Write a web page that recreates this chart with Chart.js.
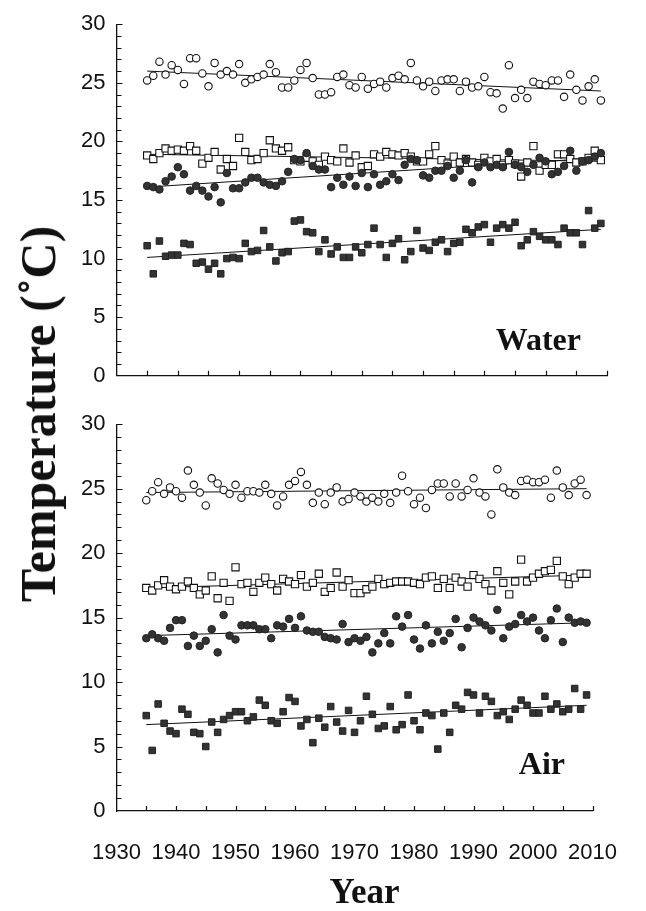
<!DOCTYPE html>
<html>
<head>
<meta charset="utf-8">
<script src="https://cdn.jsdelivr.net/npm/chart.js@4.4.1/dist/chart.umd.min.js"></script>
<style>
  body { margin: 0; background: #fff; }
  #wrap { position: relative; width: 646px; height: 911px; }
  canvas { position: absolute; left: 0; }
  .ytitle {
    position: absolute; left: 38px; top: 414px;
    transform: translate(-50%, -50%) rotate(-90deg);
    font: bold 50px "Liberation Serif", serif; line-height: 1;
    white-space: nowrap; color: #111;
  }
</style>
</head>
<body>
<div id="wrap">
  <canvas id="water" width="646" height="400" style="top:0"></canvas>
  <canvas id="air" width="646" height="511" style="top:400px"></canvas>
  <div class="ytitle">Temperature (˚C)</div>
</div>
<script>
// years of record
const YEARS = [
  1935, 1936, 1937, 1938, 1939, 1940, 1941, 1942, 1943, 1944,
  1945, 1946, 1947, 1948, 1949, 1950, 1951, 1952, 1953, 1954,
  1955, 1956, 1957, 1958, 1959, 1960, 1961, 1962, 1963, 1964,
  1965, 1966, 1967, 1968, 1969, 1970, 1971, 1972, 1973, 1974,
  1975, 1976, 1977, 1978, 1979, 1980, 1981, 1982, 1983, 1984,
  1985, 1986, 1987, 1988, 1989, 1990, 1991, 1992, 1993, 1994,
  1995, 1996, 1997, 1998, 1999, 2000, 2001, 2002, 2003, 2004,
  2005, 2006, 2007, 2008, 2009
];
const X_TICKS = [1930, 1940, 1950, 1960, 1970, 1980, 1990, 2000, 2010];

// water temperature
const waterOpenCircle = [
  25.2, 25.6, 26.8, 25.7, 26.5, 26.1, 24.9, 27.1, 27.1, 25.8,
  24.7, 26.7, 25.7, 26.0, 25.7, 26.6, 25.0, 25.3, 25.5, 25.7,
  26.6, 25.9, 24.6, 24.6, 25.2, 26.1, 26.7, 25.4, 24.0, 24.0,
  24.2, 25.5, 25.7, 24.8, 24.6, 25.5, 24.5, 24.9, 25.1, 24.6,
  25.4, 25.6, 25.3, 26.7, 25.2, 24.7, 25.1, 24.3, 25.2, 25.3,
  25.3, 24.3, 25.1, 24.6, 24.7, 25.5, 24.2, 24.1, 22.8, 26.5,
  23.7, 24.4, 23.7, 25.1, 24.9, 24.8, 25.2, 25.2, 23.8, 25.7,
  24.4, 23.5, 24.7, 25.3, 23.5
];
const waterOpenSquare = [
  18.8, 18.5, 19.0, 19.4, 19.2, 19.3, 19.2, 19.6, 19.2, 18.1,
  18.6, 19.1, 17.6, 18.5, 17.9, 20.3, 19.1, 18.4, 18.5, 19.0,
  20.1, 19.4, 19.2, 19.5, 18.4, 18.3, 18.6, 18.3, 18.0, 18.7,
  18.4, 18.3, 19.4, 18.2, 18.8, 17.8, 17.9, 18.9, 18.7, 19.1,
  18.9, 18.8, 19.0, 18.7, 18.3, 18.3, 18.9, 19.6, 18.4, 18.1,
  18.7, 18.2, 18.5, 18.2, 18.0, 18.6, 18.3, 18.5, 18.0, 18.4,
  18.1, 17.0, 18.2, 19.6, 17.5, 18.0, 18.0, 18.9, 18.9, 18.5,
  18.2, 18.3, 18.6, 19.2, 18.4
];
const waterDot = [
  16.2, 16.1, 15.9, 16.6, 17.0, 17.8, 17.2, 15.8, 16.2, 15.8,
  15.3, 16.1, 14.8, 17.3, 16.0, 16.0, 16.5, 16.9, 16.9, 16.5,
  16.3, 16.2, 16.6, 17.4, 18.5, 18.4, 19.0, 17.9, 17.6, 17.6,
  16.1, 16.9, 16.3, 17.0, 16.2, 17.3, 16.1, 17.2, 16.3, 16.6,
  17.2, 16.7, 18.0, 18.5, 18.4, 17.1, 16.9, 17.5, 17.5, 17.9,
  16.9, 17.5, 18.4, 16.5, 17.8, 18.2, 17.8, 18.0, 17.8, 19.1,
  18.0, 17.8, 17.4, 18.0, 18.6, 18.3, 17.2, 17.4, 17.9, 19.2,
  17.5, 18.3, 18.4, 18.7, 19.0
];
const waterBlock = [
  11.1, 8.7, 11.5, 10.2, 10.3, 10.3, 11.3, 11.2, 9.6, 9.7,
  9.1, 9.6, 8.7, 10.0, 10.1, 10.0, 11.3, 10.6, 10.7, 12.4,
  11.0, 9.8, 10.5, 10.6, 13.2, 13.3, 12.3, 12.2, 10.6, 11.6,
  10.4, 11.0, 10.1, 10.1, 11.0, 10.5, 11.2, 12.6, 11.2, 10.1,
  11.3, 11.7, 9.9, 10.6, 12.4, 10.9, 10.7, 11.4, 11.6, 10.6,
  11.3, 11.4, 12.5, 12.2, 12.7, 12.9, 11.4, 12.6, 12.9, 12.6,
  13.1, 11.1, 11.6, 12.3, 11.9, 11.6, 11.6, 11.2, 12.6, 12.2,
  12.2, 11.2, 14.1, 12.6, 13.0
];
// trend line ends [1935, 2009]
const waterTrend = {
  openCircle: [26.0, 24.3],
  openSquare: [18.9, 18.3],
  dot: [16.1, 18.6],
  block: [10.1, 12.5]
};

// air temperature
const airOpenCircle = [
  24.1, 24.8, 25.5, 24.6, 25.1, 24.8, 24.3, 26.4, 25.3, 24.7,
  23.7, 25.8, 25.4, 24.9, 24.6, 25.3, 24.3, 24.8, 24.8, 24.7,
  25.3, 24.6, 23.7, 24.4, 25.3, 25.6, 26.3, 25.3, 23.9, 24.7,
  23.8, 24.7, 25.1, 24.0, 24.2, 24.7, 24.4, 24.0, 24.3, 24.0,
  24.6, 23.9, 24.7, 26.0, 24.8, 23.8, 24.3, 23.5, 24.9, 25.4,
  25.4, 24.4, 25.4, 24.4, 24.9, 25.8, 24.7, 24.4, 23.0, 26.5,
  25.1, 24.7, 24.5, 25.6, 25.7, 25.5, 25.5, 25.7, 24.3, 26.4,
  25.1, 24.5, 25.4, 25.7, 24.5
];
const airOpenSquare = [
  17.3, 17.1, 17.5, 17.9, 17.4, 17.2, 17.4, 17.8, 17.3, 16.8,
  17.1, 18.2, 16.5, 17.7, 16.3, 18.9, 17.6, 17.7, 17.0, 17.7,
  18.1, 17.6, 17.1, 18.0, 17.8, 17.6, 18.3, 17.4, 17.7, 18.4,
  17.0, 17.3, 18.5, 17.4, 17.9, 16.9, 16.9, 17.2, 17.4, 18.0,
  17.6, 17.7, 17.8, 17.8, 17.8, 17.7, 17.6, 18.1, 18.2, 17.3,
  18.0, 17.3, 18.1, 17.8, 17.4, 18.3, 18.0, 17.6, 17.1, 18.6,
  17.7, 16.8, 17.8, 19.5, 17.8, 18.1, 18.4, 18.6, 18.7, 19.4,
  18.2, 17.6, 18.1, 18.4, 18.4
];
const airDot = [
  13.4, 13.7, 13.4, 13.2, 14.2, 14.8, 14.8, 12.8, 13.6, 12.8,
  13.2, 14.1, 12.3, 15.2, 13.6, 13.3, 14.4, 14.4, 14.4, 14.1,
  14.1, 13.4, 14.4, 14.3, 14.9, 14.2, 15.1, 14.0, 13.9, 13.9,
  13.5, 13.4, 13.3, 14.5, 13.1, 13.4, 13.2, 13.5, 12.3, 13.0,
  13.8, 13.0, 15.1, 14.3, 15.2, 13.3, 12.6, 14.4, 13.0, 13.9,
  13.2, 13.8, 14.9, 12.7, 14.2, 15.0, 14.7, 14.4, 14.0, 15.6,
  13.4, 14.3, 14.5, 15.2, 14.7, 15.0, 14.0, 13.4, 14.8, 15.7,
  13.1, 15.0, 14.6, 14.7, 14.6
];
const airBlock = [
  7.4, 4.7, 8.3, 6.8, 6.2, 6.0, 7.9, 7.5, 6.1, 6.0,
  5.0, 6.9, 6.1, 7.1, 7.4, 7.7, 7.7, 7.0, 7.3, 8.6,
  8.2, 7.0, 6.8, 7.7, 8.8, 8.5, 6.6, 7.1, 5.3, 7.2,
  6.5, 8.1, 6.9, 6.2, 7.8, 6.1, 7.0, 8.9, 7.5, 6.4,
  6.6, 8.1, 6.3, 6.7, 9.0, 7.0, 6.3, 7.6, 7.4, 4.8,
  7.6, 6.1, 8.2, 7.9, 9.2, 9.0, 7.6, 8.9, 8.5, 7.4,
  7.7, 7.1, 7.9, 8.6, 8.2, 7.6, 7.6, 8.9, 7.9, 8.3,
  7.7, 7.9, 9.5, 7.9, 9.0
];
const airTrend = {
  openCircle: [24.7, 25.0],
  openSquare: [17.3, 18.3],
  dot: [13.6, 14.6],
  block: [6.7, 8.2]
};

const INK = '#111';
const FILL = '#333';

const MARKERS = {
  openCircle: { pointStyle: 'circle', pointRadius: 3.7, pointBackgroundColor: '#fff', pointBorderColor: INK, pointBorderWidth: 1.1, order: 3 },
  openSquare: { pointStyle: 'rect', pointRadius: 5.1, pointBackgroundColor: '#fff', pointBorderColor: INK, pointBorderWidth: 1.1, order: 2 },
  dot: { pointStyle: 'circle', pointRadius: 3.8, pointBackgroundColor: FILL, pointBorderColor: '#222', pointBorderWidth: 1, order: 1 },
  block: { pointStyle: 'rect', pointRadius: 4.6, pointBackgroundColor: FILL, pointBorderColor: '#222', pointBorderWidth: 1, order: 0 }
};

function pairs(values) {
  return values.map((v, i) => ({ x: YEARS[i], y: v }));
}

function buildDatasets(series, trend) {
  const sets = [];
  for (const key of Object.keys(series)) {
    sets.push({
      label: key,
      data: pairs(series[key]),
      showLine: false,
      ...MARKERS[key]
    });
    sets.push({
      label: key + ' trend',
      data: [{ x: YEARS[0], y: trend[key][0] }, { x: YEARS[YEARS.length - 1], y: trend[key][1] }],
      showLine: true,
      borderColor: INK,
      borderWidth: 1,
      pointRadius: 0,
      order: 10
    });
  }
  return sets;
}

// ticks pointing into the plot, like the printed figure
const innerTicks = {
  id: 'innerTicks',
  afterDraw(chart) {
    const { ctx, chartArea: a, scales: { x, y } } = chart;
    ctx.save();
    ctx.strokeStyle = INK;
    ctx.lineWidth = 1.2;
    ctx.beginPath();
    for (let yr = 1935; yr <= 2010; yr += 5) {
      const px = Math.round(x.getPixelForValue(yr)) + 0.5;
      ctx.moveTo(px, a.bottom);
      ctx.lineTo(px, a.bottom - 5);
    }
    for (let v = 1; v <= 30; v++) {
      const py = Math.round(y.getPixelForValue(v)) + 0.5;
      ctx.moveTo(a.left, py);
      ctx.lineTo(a.left + (v % 5 ? 5 : 6), py);
    }
    ctx.stroke();
    ctx.restore();
  }
};

const panelText = {
  id: 'panelText',
  afterDraw(chart, args, opts) {
    const { ctx, scales: { x, y } } = chart;
    ctx.save();
    ctx.fillStyle = INK;
    ctx.font = 'bold 32px "Liberation Serif"';
    ctx.textAlign = 'center';
    ctx.textBaseline = 'alphabetic';
    ctx.fillText(opts.text, x.getPixelForValue(opts.at[0]), y.getPixelForValue(opts.at[1]));
    if (opts.xTitle) {
      ctx.font = 'bold 35px "Liberation Serif"';
      ctx.fillText(opts.xTitle, (chart.chartArea.left + chart.chartArea.right) / 2 + 10, chart.chartArea.bottom + 92);
    }
    ctx.restore();
  }
};

function makeChart(id, series, trend, opts) {
  return new Chart(document.getElementById(id), {
    type: 'scatter',
    data: { datasets: buildDatasets(series, trend) },
    plugins: [innerTicks, panelText],
    options: {
      responsive: false,
      animation: false,
      layout: { padding: { top: opts.top, right: 39, left: 0, bottom: 0 } },
      plugins: {
        legend: { display: false },
        tooltip: { enabled: false },
        panelText: { text: opts.text, at: opts.at, xTitle: opts.xTitle }
      },
      scales: {
        x: {
          type: 'linear',
          min: 1930,
          max: 2010,
          grid: { display: false, drawTicks: false },
          border: { display: true, color: INK, width: 1.3 },
          afterBuildTicks: s => { s.ticks = X_TICKS.map(v => ({ value: v })); },
          ticks: {
            display: opts.showYears,
            color: '#111',
            font: { family: 'Liberation Sans', size: 22 },
            padding: 29,
            maxRotation: 0,
            autoSkip: false,
            callback: v => String(v)
          },
          afterFit: s => { s.height = opts.xHeight; }
        },
        y: {
          min: 0,
          max: 30,
          grid: { display: false, drawTicks: false },
          border: { display: true, color: INK, width: 1.3 },
          ticks: {
            stepSize: 5,
            color: '#111',
            font: { family: 'Liberation Sans', size: 22 },
            padding: 11
          },
          afterFit: s => { s.width = 116.5; }
        }
      }
    }
  });
}

makeChart('water',
  { openCircle: waterOpenCircle, openSquare: waterOpenSquare, dot: waterDot, block: waterBlock },
  waterTrend,
  { top: 17, xHeight: 5, showYears: false, text: 'Water', at: [1998.8, 2.2] });

makeChart('air',
  { openCircle: airOpenCircle, openSquare: airOpenSquare, dot: airDot, block: airBlock },
  airTrend,
  { top: 23, xHeight: 100, showYears: true, text: 'Air', at: [2001.5, 2.9], xTitle: 'Year' });
</script>
</body>
</html>
